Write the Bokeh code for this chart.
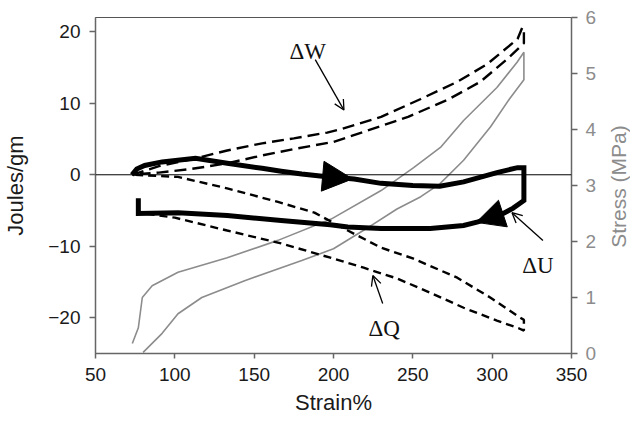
import numpy as np
from bokeh.plotting import figure
from bokeh.models import (Range1d, LinearAxis, FixedTicker, Span, Arrow,
                          NormalHead, OpenHead, Label)
from bokeh.embed import file_html
from bokeh.resources import INLINE

# ---------------- data ----------------
x_ticks = [50, 100, 150, 200, 250, 300, 350]
y_ticks = [-20, -10, 0, 10, 20]
stress_ticks = [0, 1, 2, 3, 4, 5, 6]

# Work (dW), J/g : loading then unloading
w_strain = [73, 90, 113, 133, 155, 175, 196, 205, 230, 255, 278, 297, 316, 319, 320, 320,
            309, 292.5, 272, 247, 219, 200, 175, 155, 133, 110, 90, 78]
w_joules = [0, 1.2, 2.3, 3.4, 4.4, 5.1, 5.9, 6.4, 8.1, 10.6, 13.0, 15.5, 19.0, 20.6, 20.4, 18.4,
            16.1, 13.0, 10.5, 8.1, 6.0, 4.6, 3.6, 2.7, 1.6, 0.8, 0.3, 0.1]

# Heat (dQ), J/g : loading then unloading
q_strain = [75, 102, 133, 165, 188, 209, 230, 250, 278, 299, 317, 320, 320,
            317, 303, 282, 261, 240, 219, 198, 167, 133, 100, 77]
q_joules = [0, -0.3, -1.9, -3.8, -5.3, -7.8, -10.2, -11.7, -14.4, -17.2, -19.9, -20.3, -21.8,
            -21.5, -20.4, -18.6, -16.5, -14.5, -13.0, -11.6, -9.6, -7.8, -6.0, -5.3]

# Internal energy (dU), J/g
u_load_strain = [73, 76, 81, 92, 113, 133, 155, 167, 180, 193, 213, 230, 250, 267, 282, 303, 316, 320]
u_load = [0, 0.8, 1.3, 1.8, 2.3, 1.6, 0.9, 0.5, 0.1, -0.2, -0.6, -1.2, -1.5, -1.6, -1.0, 0.3, 1.0, 1.0]
u_unload_strain = [320, 313, 307, 291, 282, 261, 230, 209, 198, 167, 133, 102, 77, 77]
u_unload = [-3.6, -4.7, -5.4, -6.6, -7.1, -7.5, -7.5, -7.3, -7.0, -6.4, -5.7, -5.3, -5.4, -3.3]

# Stress, MPa
s_load_strain = [73.2, 77, 79.5, 85.7, 102, 133, 165, 198.5, 230, 250.5, 267.4, 282, 303, 315.7, 320]
s_load = [0.18, 0.46, 1.0, 1.21, 1.45, 1.71, 2.02, 2.4, 2.91, 3.32, 3.68, 4.16, 4.75, 5.2, 5.38]
s_unload_strain = [320, 311, 299, 282, 267, 255, 240, 219, 200, 180, 144, 117, 102, 92, 80]
s_unload = [4.89, 4.55, 4.05, 3.45, 3.03, 2.8, 2.58, 2.2, 1.87, 1.66, 1.3, 1.0, 0.71, 0.36, 0.02]

# direction arrows along dU (strain from -> to)
u_arrow_load = (192, 212)
u_arrow_unload = (304, 290)

# ---------------- figure ----------------
FONT = "Liberation Sans"
SERIF = "Liberation Serif"
GRAY = "#8c8c8c"
AXIS = "#666666"

p = figure(width=630, height=423, output_backend="svg", toolbar_location=None,
           x_range=Range1d(50, 350), y_range=Range1d(-25, 22),
           min_border_left=93, min_border_right=59, min_border_top=17,
           min_border_bottom=70)
p.extra_y_ranges = {"stress": Range1d(0, 6)}
p.grid.visible = False
p.outline_line_color = "#555555"
p.outline_line_width = 1
p.background_fill_color = "white"
p.border_fill_color = "white"

def style_axis(ax, color, label_color):
    ax.axis_line_color = color
    ax.axis_line_width = 1.5
    ax.major_tick_line_color = color
    ax.major_tick_line_width = 1.5
    ax.major_tick_in = 0
    ax.major_tick_out = 6
    ax.minor_tick_line_color = None
    ax.major_label_text_font = FONT
    ax.major_label_text_font_size = "19px"
    ax.major_label_text_color = label_color
    ax.major_label_standoff = 9
    ax.axis_label_text_font = FONT
    ax.axis_label_text_font_size = "22px"
    ax.axis_label_text_font_style = "normal"
    ax.axis_label_text_color = label_color

p.xaxis.ticker = FixedTicker(ticks=x_ticks)
p.yaxis.ticker = FixedTicker(ticks=y_ticks)
style_axis(p.xaxis[0], AXIS, "#1a1a1a")
style_axis(p.yaxis[0], AXIS, "#1a1a1a")
p.xaxis.major_tick_out = 5
p.xaxis.axis_label = "Strain%"
p.xaxis.axis_label_standoff = 6
p.yaxis.axis_label = "Joules/gm"
p.yaxis.axis_label_standoff = 17

right = LinearAxis(y_range_name="stress", ticker=FixedTicker(ticks=stress_ticks))
style_axis(right, AXIS, GRAY)
right.major_label_standoff = 8
p.add_layout(right, "right")

# right-axis title, reading bottom to top, in the right side panel
p.add_layout(Label(x=618, y=186, x_units="canvas", y_units="canvas",
                   text="Stress (MPa)", angle=np.pi / 2,
                   text_font=FONT, text_font_size="21px", text_color=GRAY,
                   text_align="center", text_baseline="alphabetic"), "right")

# zero line
p.add_layout(Span(location=0, dimension="width", line_color="black", line_width=1))

# stress curves (right axis)
p.line(s_load_strain + s_unload_strain, s_load + s_unload, y_range_name="stress",
       line_color=GRAY, line_width=1.6)

# dW and dQ dashed loops
p.line(w_strain, w_joules, line_color="black", line_width=2.4, line_dash="12 6")
p.line(q_strain, q_joules, line_color="black", line_width=2.4, line_dash="8 5")

# dU thick loop
p.line(u_load_strain + u_unload_strain, u_load + u_unload, line_color="black",
       line_width=5, line_join="miter")

# direction arrowheads on dU
ls = np.array(u_load_strain, dtype=float)
lu = np.array(u_load, dtype=float)
us = np.array(u_unload_strain[::-1], dtype=float)
uu = np.array(u_unload[::-1], dtype=float)
a0, a1 = u_arrow_load
p.add_layout(Arrow(end=NormalHead(size=30, fill_color="black", line_color="black"),
                   x_start=a0, y_start=float(np.interp(a0, ls, lu)),
                   x_end=a1, y_end=float(np.interp(a1, ls, lu)),
                   line_alpha=0))
b0, b1 = u_arrow_unload
p.add_layout(Arrow(end=NormalHead(size=28, fill_color="black", line_color="black"),
                   x_start=b0, y_start=float(np.interp(b0, us, uu)),
                   x_end=b1, y_end=float(np.interp(b1, us, uu)),
                   line_alpha=0))

# callout labels
callouts = [
    ("\u0394W", 183.7, 17.3, 188.5, 16.1, 206.6, 9.05),
    ("\u0394U", 328.8, -12.7, 332.0, -9.2, 312.5, -5.3),
    ("\u0394Q", 231.9, -21.5, 231.0, -18.0, 224.8, -14.1),
]
for txt, tx, ty, xs, ys, xe, ye in callouts:
    p.add_layout(Label(x=tx, y=ty, text=txt, text_font=SERIF, text_font_size="23px",
                       text_align="center", text_baseline="alphabetic",
                       text_color="#111111"))
    p.add_layout(Arrow(end=OpenHead(size=10, line_width=1.3, line_color="black"),
                       x_start=xs, y_start=ys, x_end=xe, y_end=ye,
                       line_color="black", line_width=1.3))

open("out.html", "w").write(file_html(p, INLINE))
